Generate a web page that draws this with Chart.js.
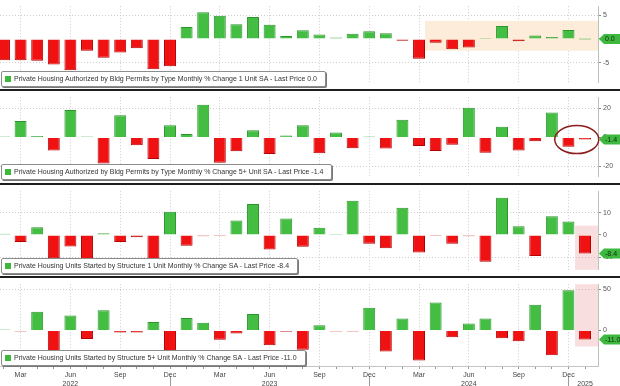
<!DOCTYPE html>
<html>
<head>
<meta charset="utf-8">
<script src="https://cdn.jsdelivr.net/npm/chart.js@4.4.1/dist/chart.umd.min.js"></script>
<style>
body{margin:0;background:#fff;width:620px;height:386px;overflow:hidden;position:relative;font-family:"Liberation Sans",Arial,sans-serif}
canvas{position:absolute;left:0}
.sep{position:absolute;left:0;width:620px;height:2px;background:#1e1e1e}
.key{position:absolute;left:1px;background:#fff;border:1px solid #8c8c8c;border-radius:2px;box-shadow:1px 1px 0 #777;font-size:7px;color:#333;padding:3px 8px 3px 3px;white-space:nowrap;line-height:8px}
.key i{display:inline-block;width:6px;height:6px;background:#3cb93c;margin-right:3px;vertical-align:-1px}
</style>
</head>
<body>
<canvas id="p1" width="620" height="89" style="top:0"></canvas>
<div class="sep" style="top:89px"></div>
<canvas id="p2" width="620" height="92" style="top:91px"></canvas>
<div class="sep" style="top:183px"></div>
<canvas id="p3" width="620" height="91" style="top:185px"></canvas>
<div class="sep" style="top:276px"></div>
<canvas id="p4" width="620" height="108" style="top:278px"></canvas>

<div class="key" style="top:71px"><i></i>Private Housing Authorized by Bldg Permits by Type Monthly % Change 1 Unit SA - Last Price 0.0</div>
<div class="key" style="top:164px"><i></i>Private Housing Authorized by Bldg Permits by Type Monthly % Change 5+ Unit SA - Last Price -1.4</div>
<div class="key" style="top:258px"><i></i>Private Housing Units Started by Structure 1 Unit Monthly % Change SA - Last Price -8.4</div>
<div class="key" style="top:350px"><i></i>Private Housing Units Started by Structure 5+ Unit Monthly % Change SA - Last Price -11.0</div>

<script>
// months Feb 2022 .. Jan 2025
var months = ['Feb 22','Mar 22','Apr 22','May 22','Jun 22','Jul 22','Aug 22','Sep 22','Oct 22','Nov 22','Dec 22',
  'Jan 23','Feb 23','Mar 23','Apr 23','May 23','Jun 23','Jul 23','Aug 23','Sep 23','Oct 23','Nov 23','Dec 23',
  'Jan 24','Feb 24','Mar 24','Apr 24','May 24','Jun 24','Jul 24','Aug 24','Sep 24','Oct 24','Nov 24','Dec 24',
  'Jan 25'];

var xTickLabels = ['', 'Mar', '', '', ['Jun','2022'], '', '', 'Sep', '', '', 'Dec', '',
  '', 'Mar', '', '', ['Jun','2023'], '', '', 'Sep', '', '', 'Dec', '',
  '', 'Mar', '', '', ['Jun','2024'], '', '', 'Sep', '', '', 'Dec', ['', '2025']];

var permits1Unit = [-4.5,-4.5,-4.6,-5.4,-6.6,-2.5,-4.0,-2.9,-2.0,-6.4,-5.8,
  2.5,5.6,4.9,3.1,4.6,3.0,0.6,1.8,0.9,0.3,1.1,1.6,
  1.2,-0.4,-4.2,-0.8,-2.2,-1.8,0.1,2.7,-0.5,0.7,0.4,1.9,0.0];

var permits5Unit = [0.4,11.3,1.0,-9.0,18.9,0.3,-18.0,15.3,-5.4,-14.9,8.4,
  2.4,22.5,-17.5,-9.6,5.0,-11.5,1.4,8.4,-11.0,3.4,-7.4,0.5,
  -7.6,12.3,-6.0,-9.4,-5.0,20.5,-10.6,7.4,-9.0,-2.6,17.3,-6.4,-1.4];

var starts1Unit = [0.5,-3.2,3.5,-10.5,-5.2,-11.0,0.8,-3.2,-1.0,-11.0,10.4,
  -4.9,-0.6,-0.5,6.5,13.9,-6.6,7.4,-5.3,3.2,0.2,15.4,-4.0,
  -6.0,12.3,-7.9,-0.3,-4.0,-0.6,-12.1,16.7,3.9,-9.5,8.4,6.1,-8.4];

var starts5Unit = [0.3,-1.0,22.5,-27,18.0,-10.5,24.4,-2.6,-2.6,10.1,-27,
  15.0,9.4,-11.3,-3.8,19.9,-18.0,-1.5,-23.3,6.4,-1.0,-0.5,27.4,
  -25.5,14.3,-36.4,33.8,-8.3,8.3,14.3,-9.4,-13.1,31.2,-30.0,48.8,-11.0];

var yearEnds = [10, 22, 34]; // Dec ticks that close each year

var GREEN = '#43be43', GREEN_EDGE = '#2c962c';
var RED = '#f01212', RED_EDGE = '#b30000';
var FONT = '"Liberation Sans", Arial, sans-serif';

var marks = {
  id: 'marks',
  beforeDraw: function(chart, args, opts) {
    if (!opts.yearLines) return;
    var ctx = chart.ctx, xs = chart.scales.x, a = chart.chartArea;
    ctx.save();
    ctx.strokeStyle = '#9a9a9a';
    ctx.lineWidth = 1;
    opts.yearLines.forEach(function(i) {
      var x = Math.round(xs.getPixelForValue(i)) + 0.5;
      ctx.beginPath();
      ctx.moveTo(x, a.bottom + 10);
      ctx.lineTo(x, chart.height);
      ctx.stroke();
    });
    ctx.restore();
  },
  beforeDatasetsDraw: function(chart, args, opts) {
    var ctx = chart.ctx, xs = chart.scales.x, ys = chart.scales.y, a = chart.chartArea;
    (opts.bands || []).forEach(function(b) {
      var x1 = xs.getPixelForValue(b.x[0]), x2 = Math.min(xs.getPixelForValue(b.x[1]), a.right);
      var y1 = b.y[1] === null ? a.top : ys.getPixelForValue(b.y[1]);
      var y2 = b.y[0] === null ? a.bottom : ys.getPixelForValue(b.y[0]);
      ctx.save();
      ctx.fillStyle = b.color;
      ctx.fillRect(x1, y1, x2 - x1, y2 - y1);
      ctx.restore();
    });
  },
  afterDraw: function(chart, args, opts) {
    var ctx = chart.ctx, xs = chart.scales.x, ys = chart.scales.y, a = chart.chartArea;
    if (opts.ring) {
      var r = opts.ring;
      ctx.save();
      ctx.strokeStyle = '#8e1c1c';
      ctx.lineWidth = 1.5;
      ctx.beginPath();
      ctx.ellipse(xs.getPixelForValue(r.x), ys.getPixelForValue(r.y), r.rx, r.ry, 0, 0, Math.PI * 2);
      ctx.stroke();
      ctx.restore();
    }
    // last price tag
    var v = opts.last;
    var y = ys.getPixelForValue(v), x0 = a.right;
    ctx.save();
    ctx.fillStyle = '#3fb83f';
    ctx.beginPath();
    ctx.moveTo(x0 + 1, y);
    ctx.lineTo(x0 + 6, y - 5);
    ctx.lineTo(620, y - 5);
    ctx.lineTo(620, y + 5);
    ctx.lineTo(x0 + 6, y + 5);
    ctx.closePath();
    ctx.fill();
    ctx.fillStyle = '#0d2a0d';
    ctx.font = '7px ' + FONT;
    ctx.textBaseline = 'middle';
    ctx.fillText(v.toFixed(1), x0 + 7, y + 0.5);
    ctx.restore();
  }
};

function makePanel(id, values, yMin, yMax, yTicks, extra, showX) {
  var pts = values.map(function(v, i) { return {x: i, y: v}; });
  var opts = Object.assign({last: values[values.length - 1]}, extra || {});
  return new Chart(document.getElementById(id), {
    type: 'bar',
    data: {
      labels: months,
      datasets: [{
        data: pts,
        backgroundColor: function(c) { return c.raw && c.raw.y < 0 ? RED : GREEN; },
        borderColor: function(c) { return c.raw && c.raw.y < 0 ? RED_EDGE : GREEN_EDGE; },
        borderWidth: 1,
        minBarLength: 1,
        barPercentage: 0.72,
        categoryPercentage: 1
      }]
    },
    options: {
      responsive: false,
      animation: false,
      layout: {padding: 0},
      plugins: {legend: {display: false}, tooltip: {enabled: false}, marks: opts},
      scales: {
        x: {
          type: 'linear',
          offset: false,
          min: -0.24,
          max: 35.78,
          afterBuildTicks: function(s) { s.ticks = months.map(function(m, i) { return {value: i}; }); },
          afterFit: function(s) {
            s.height = showX ? 20 : 0;
            s.paddingLeft = 0;
            s.paddingRight = 0;
          },
          ticks: {
            display: showX,
            autoSkip: false,
            maxRotation: 0,
            padding: 1,
            font: {size: 7, family: FONT, lineHeight: 1.35},
            color: '#444',
            callback: function(v, i) { return xTickLabels[i]; }
          },
          grid: {
            offset: false,
            color: function(c) { return c.tick && c.tick.value % 3 === 1 ? '#cdcdcd' : 'rgba(0,0,0,0)'; },
            drawTicks: showX,
            tickColor: '#999',
            tickLength: 3
          },
          border: {display: showX, color: '#c4c4c4', dash: [1, 2]}
        },
        y: {
          position: 'right',
          min: yMin,
          max: yMax,
          afterBuildTicks: function(s) { s.ticks = yTicks.map(function(v) { return {value: v}; }); },
          afterFit: function(s) { s.width = 22; },
          ticks: {font: {size: 7, family: FONT}, color: '#555', padding: 2},
          grid: {
            color: function(c) { return c.tick && c.tick.value !== 0 ? '#cdcdcd' : 'rgba(0,0,0,0)'; },
            tickColor: '#888',
            tickLength: 3
          },
          border: {display: true, color: '#b6c6b6', dash: [1, 2]}
        }
      }
    },
    plugins: [marks]
  });
}

makePanel('p1', permits1Unit, -9.27, 6.9, [-5, 0, 5],
  {bands: [{x: [25.36, 36], y: [-2.5, 3.8], color: '#fcecd9'}]}, false);
makePanel('p2', permits5Unit, -27.2, 27.8, [-20, 0, 20],
  {ring: {x: 34.5, y: -1.5, rx: 22, ry: 14}}, false);
makePanel('p3', starts1Unit, -15.7, 19.7, [-10, 0, 10],
  {bands: [{x: [34.4, 36], y: [null, 4.2], color: 'rgba(236,160,160,0.35)'}]}, false);
makePanel('p4', starts5Unit, -43.1, 56, [0, 50],
  {bands: [{x: [34.4, 36], y: [-19.5, null], color: 'rgba(236,160,160,0.35)'}], yearLines: yearEnds}, true);
</script>
</body>
</html>
